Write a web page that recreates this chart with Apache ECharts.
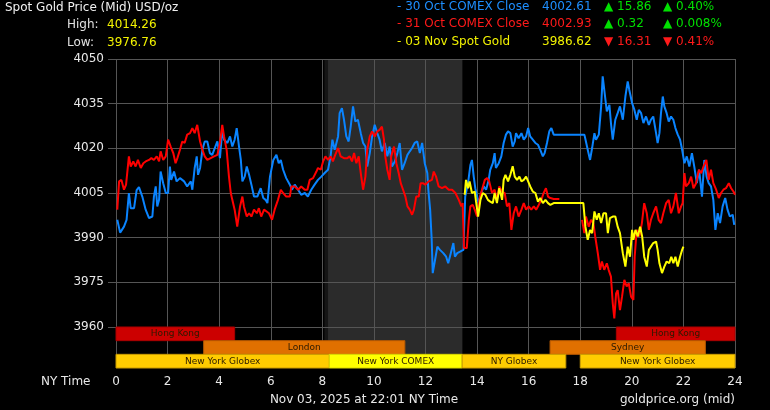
<!DOCTYPE html>
<html><head><meta charset="utf-8">
<script src="https://cdn.jsdelivr.net/npm/echarts@6/dist/echarts.min.js"></script>
<style>html,body{margin:0;padding:0;background:#000}#c{width:770px;height:410px}</style>
</head><body><div id="c"></div>
<script>
// ---- data (hour of NY day, price) ----
const oct30 = [[0.05,3996],[0.16,3991.7],[0.31,3993.7],[0.41,3996],[0.50,4005],[0.57,3999.9],[0.70,3999.9],[0.80,4006],[0.89,4007],[1.02,4003.8],[1.15,3999.4],[1.28,3996.6],[1.41,3997.1],[1.47,4003.8],[1.54,4007.2],[1.60,4000.5],[1.67,4002.7],[1.73,4012.2],[1.83,4008.3],[1.93,4005],[2.02,4005],[2.09,4013.9],[2.14,4009.4],[2.25,4012.2],[2.35,4008.9],[2.48,4010],[2.64,4008.9],[2.76,4007.2],[2.90,4008.9],[2.96,4006.1],[3.05,4013.4],[3.13,4017.3],[3.18,4011.1],[3.26,4013.4],[3.35,4019.5],[3.44,4022.3],[3.54,4022.3],[3.64,4018.4],[3.73,4017.8],[3.83,4020.1],[3.93,4022.3],[4.03,4016.7],[4.12,4026.2],[4.19,4022.9],[4.32,4021.8],[4.42,4024],[4.51,4020.6],[4.60,4022.9],[4.68,4026.8],[4.77,4020.6],[4.84,4016.1],[4.90,4008.9],[4.99,4010.5],[5.07,4013.9],[5.16,4011.1],[5.25,4007.8],[5.35,4003.8],[5.48,4003.8],[5.61,4006.6],[5.71,4003.3],[5.80,4002.7],[5.87,4001.6],[5.97,4010.5],[6.10,4016.1],[6.15,4016.1],[6.22,4017.8],[6.31,4015],[6.39,4016.1],[6.48,4012.8],[6.60,4010],[6.74,4007.8],[6.82,4006.1],[6.93,4007.8],[7.06,4006.1],[7.18,4004.4],[7.32,4005],[7.44,4003.8],[7.57,4006.1],[7.70,4007.8],[7.83,4009.4],[7.96,4010.5],[8.09,4011.7],[8.22,4012.8],[8.32,4017.3],[8.39,4022.9],[8.48,4019.5],[8.61,4024],[8.67,4031.8],[8.76,4033.5],[8.84,4029.6],[8.93,4024],[9.02,4022.3],[9.10,4027.3],[9.19,4034.1],[9.28,4029],[9.38,4029.6],[9.49,4025.1],[9.58,4021.8],[9.67,4020.6],[9.74,4013.9],[9.84,4018.4],[9.93,4024],[10.03,4027.9],[10.13,4025.1],[10.22,4022.9],[10.31,4019],[10.42,4021.8],[10.52,4017.3],[10.61,4020.6],[10.70,4013.9],[10.81,4015.6],[10.91,4018.4],[11.00,4021.8],[11.09,4012.8],[11.19,4015],[11.30,4017.8],[11.39,4019],[11.48,4020.1],[11.58,4021.8],[11.68,4022.3],[11.78,4018.4],[11.87,4021.8],[11.97,4015],[12.07,4011.7],[12.11,4006.1],[12.18,3999.4],[12.24,3989.3],[12.28,3978.1],[12.37,3982.5],[12.46,3987],[12.56,3985.9],[12.69,3984.8],[12.80,3983.6],[12.88,3981.4],[12.98,3984.8],[13.08,3988.2],[13.14,3983.6],[13.23,3984.8],[13.34,3985.3],[13.47,3985.9],[13.54,4003.8],[13.65,4008.3],[13.74,4014.4],[13.80,4016.1],[13.87,4010.5],[13.93,4006.6],[14.06,4001.6],[14.16,4005],[14.26,4007.2],[14.35,4006.1],[14.45,4009.4],[14.51,4012.8],[14.61,4015],[14.68,4018.4],[14.73,4013.4],[14.84,4015],[14.94,4017.3],[15.03,4021.8],[15.12,4024.6],[15.20,4025.7],[15.29,4025.1],[15.38,4020.6],[15.46,4022.3],[15.51,4025.1],[15.61,4023.4],[15.72,4025.1],[15.81,4022.9],[15.90,4024],[15.98,4026.8],[16.06,4024],[16.16,4022.9],[16.26,4021.8],[16.36,4021.2],[16.45,4019.5],[16.55,4017.3],[16.62,4018.4],[16.71,4021.8],[16.80,4025.7],[16.88,4026.8],[16.97,4024.6],[18.16,4024.6],[18.22,4022.3],[18.29,4019.5],[18.38,4016.1],[18.46,4020.1],[18.55,4025.1],[18.61,4022.9],[18.72,4024.6],[18.81,4034.1],[18.87,4044.2],[18.93,4039.7],[19.03,4032.4],[19.13,4034.6],[19.19,4028.5],[19.26,4022.9],[19.36,4029.6],[19.45,4031.8],[19.54,4034.1],[19.65,4029.6],[19.75,4037.4],[19.84,4042.5],[19.90,4039.7],[20.01,4035.2],[20.10,4032.9],[20.19,4029.6],[20.27,4032.9],[20.36,4031.8],[20.45,4028.5],[20.55,4030.7],[20.66,4027.9],[20.74,4029.6],[20.83,4030.7],[20.94,4025.1],[21.00,4021.8],[21.07,4025.1],[21.13,4031.8],[21.20,4037.4],[21.26,4034.1],[21.35,4031.8],[21.43,4029],[21.52,4030.7],[21.61,4029.6],[21.69,4026.8],[21.78,4024.6],[21.87,4022.9],[21.95,4019.5],[22.04,4015],[22.13,4017.3],[22.23,4013.9],[22.33,4018.4],[22.42,4013.9],[22.52,4008.3],[22.61,4012.8],[22.72,4003.8],[22.81,4016.1],[22.90,4010.5],[22.98,4008.3],[23.07,4007.2],[23.16,4002.7],[23.24,3992.6],[23.33,3998.2],[23.42,3994.9],[23.52,4000.5],[23.62,4003.3],[23.71,3999.4],[23.80,3997.1],[23.91,3997.7],[23.97,3994.3]];

const oct31 = [[0.05,3999.4],[0.12,4008.9],[0.21,4009.4],[0.31,4006.1],[0.39,4007.8],[0.50,4017.3],[0.57,4013.9],[0.67,4015.6],[0.76,4013.9],[0.85,4016.1],[0.96,4013.4],[1.06,4015],[1.15,4015.6],[1.28,4016.1],[1.37,4016.7],[1.47,4016.1],[1.58,4017.3],[1.67,4015.6],[1.73,4019],[1.83,4016.1],[1.93,4017.3],[2.02,4022.9],[2.12,4020.6],[2.22,4018.4],[2.31,4015],[2.38,4016.7],[2.48,4019.5],[2.57,4022.3],[2.66,4021.8],[2.76,4024.6],[2.87,4025.1],[2.96,4026.8],[3.05,4025.1],[3.15,4027.9],[3.26,4022.3],[3.35,4019.5],[3.44,4017.3],[3.54,4016.1],[3.67,4016.7],[3.80,4017.3],[3.93,4017.8],[4.03,4021.8],[4.12,4027.9],[4.19,4024],[4.29,4019.5],[4.38,4010.5],[4.45,4005],[4.51,4002.7],[4.60,3999.4],[4.70,3993.7],[4.81,4000.5],[4.90,4003.8],[4.96,4000.5],[5.07,3997.1],[5.16,3998.2],[5.25,3997.1],[5.35,3999.4],[5.46,3998.2],[5.54,3999.9],[5.63,3997.1],[5.74,3999.4],[5.84,3998.8],[5.93,3998.2],[6.05,3996],[6.15,3999.4],[6.28,4002.7],[6.39,4006.1],[6.48,4005],[6.60,4003.8],[6.74,4003.8],[6.80,4007.2],[6.93,4007.2],[7.06,4006.1],[7.18,4007.2],[7.32,4006.1],[7.42,4006.1],[7.51,4009.4],[7.64,4010],[7.77,4012.2],[7.83,4013.4],[7.94,4012.8],[8.03,4015.6],[8.12,4017.3],[8.22,4016.1],[8.32,4017.3],[8.41,4015.6],[8.50,4017.8],[8.61,4020.1],[8.71,4017.3],[8.84,4016.7],[8.97,4016.7],[9.06,4017.3],[9.15,4015.6],[9.23,4018.4],[9.32,4015],[9.41,4017.3],[9.49,4011.7],[9.58,4006.1],[9.67,4010.5],[9.74,4019.5],[9.84,4024],[9.93,4025.7],[10.03,4024],[10.13,4025.7],[10.22,4026.2],[10.31,4027.3],[10.39,4022.9],[10.44,4017.3],[10.52,4012.8],[10.61,4009.4],[10.67,4017.3],[10.78,4020.6],[10.87,4015],[10.96,4011.7],[11.04,4008.3],[11.13,4006.1],[11.22,4003.8],[11.30,4000.5],[11.39,3999.4],[11.48,3997.7],[11.55,3999.4],[11.64,4003.8],[11.74,4003.8],[11.81,4008.3],[11.90,4008.3],[11.99,4007.8],[12.12,4008.9],[12.25,4009.4],[12.32,4012.2],[12.41,4010.5],[12.51,4007.2],[12.64,4006.6],[12.77,4007.2],[12.90,4006.1],[13.03,4006.1],[13.16,4005],[13.29,4002.7],[13.39,4000.5],[13.44,4001.6],[13.49,3986.5],[13.60,3986.5],[13.68,3996],[13.74,4000.5],[13.83,4001],[13.91,3999.4],[14.00,3997.1],[14.09,4002.7],[14.19,4006.1],[14.30,4009.4],[14.39,4010],[14.47,4008.9],[14.58,4005],[14.68,4006.1],[14.77,4002.7],[14.86,4007.2],[14.97,4005.5],[15.07,4005],[15.16,4000.5],[15.25,4001.6],[15.33,3992.6],[15.42,3998.2],[15.51,4000.5],[15.61,3997.1],[15.72,3999.4],[15.81,4001.6],[15.90,3999.4],[16.00,4000.5],[16.10,3999.4],[16.20,4000.5],[16.29,3999.4],[16.39,4001],[16.49,4002.7],[16.58,4005],[16.67,4006.6],[16.75,4003.8],[16.84,4003.3],[16.97,4003],[17.19,4003],[17.5,null],[18.07,3996],[18.16,3991.5],[18.22,3997.1],[18.33,3993.7],[18.42,3996],[18.51,3994.9],[18.58,3990.4],[18.68,3984.8],[18.77,3979.2],[18.84,3982],[18.93,3979.2],[19.03,3981.4],[19.10,3979.2],[19.19,3976.9],[19.26,3968],[19.32,3962.9],[19.39,3971.3],[19.45,3972.4],[19.54,3965.7],[19.62,3970.2],[19.71,3975.8],[19.80,3973.6],[19.88,3974.7],[19.97,3970.2],[20.06,3969.1],[20.11,3983.6],[20.19,3992.6],[20.29,3990.4],[20.39,3994.9],[20.48,4001.6],[20.58,3998.2],[20.66,3992.6],[20.74,3996],[20.83,3998.2],[20.94,4000.5],[21.04,3996],[21.13,3994.9],[21.22,3998.2],[21.33,4001.6],[21.43,4002.7],[21.52,3998.2],[21.61,4000.5],[21.71,4005],[21.82,3998.2],[21.91,4000.5],[21.97,4001.6],[22.04,4011.7],[22.10,4007.2],[22.21,4008.3],[22.30,4010.5],[22.39,4006.6],[22.49,4008.3],[22.60,4012.8],[22.69,4011.7],[22.78,4013.9],[22.89,4016.1],[22.98,4009.4],[23.07,4012.8],[23.16,4008.3],[23.27,4006.1],[23.37,4003.3],[23.46,4005],[23.55,4006.1],[23.65,4006.6],[23.76,4008.3],[23.85,4006.6],[23.94,4005.5],[24.0,4004.4]];

const nov03 = [[13.52,4004.4],[13.57,4009.4],[13.65,4006.6],[13.71,4008.9],[13.80,4005],[13.91,4005.5],[13.96,4002.1],[14.04,3997.1],[14.13,4002.7],[14.22,4005],[14.32,4004.4],[14.42,4002.7],[14.51,4002.1],[14.61,4001.6],[14.68,4005],[14.77,4001.6],[14.86,4006.6],[14.97,4002.7],[15.03,4009.4],[15.10,4011.1],[15.20,4008.9],[15.29,4011.1],[15.38,4014],[15.46,4010.5],[15.55,4009.4],[15.64,4010.5],[15.72,4008.9],[15.81,4009.4],[15.90,4010.5],[15.98,4008.9],[16.06,4007.2],[16.16,4005.5],[16.26,4005],[16.36,4002.1],[16.45,4003.3],[16.55,4001.6],[16.65,4002.7],[16.75,4001.6],[16.84,4001],[16.97,4001.6],[18.12,4001.6],[18.20,3993.7],[18.29,3989.3],[18.38,3992.6],[18.46,3991.5],[18.55,3998.8],[18.64,3996],[18.72,3998.2],[18.81,3994.9],[18.90,3998.2],[19.00,3998.2],[19.07,3991.5],[19.15,3996.6],[19.26,3997.1],[19.36,3997.1],[19.45,3993.7],[19.54,3991.5],[19.65,3984.8],[19.75,3980.3],[19.84,3987],[19.93,3983.6],[20.01,3992.6],[20.06,3989.3],[20.14,3992.6],[20.23,3990.4],[20.32,3993.7],[20.40,3990.4],[20.48,3983.6],[20.58,3980.3],[20.66,3985.9],[20.74,3987],[20.83,3988.2],[20.94,3988.7],[21.00,3985.9],[21.07,3981.4],[21.17,3978.1],[21.26,3980.3],[21.35,3982],[21.45,3981.4],[21.53,3983.6],[21.61,3981.4],[21.69,3983.6],[21.78,3980.3],[21.87,3983.6],[21.95,3985.9],[22.00,3987]];

// trading sessions: [name, startHour, endHour, row]
const sessions = [
  ['Hong Kong', 0, 4.6, 0],
  ['Hong Kong', 19.4, 24, 0],
  ['London', 3.4, 11.2, 1],
  ['Sydney', 16.83, 22.85, 1],
  ['New York Globex', 0, 8.27, 2],
  ['New York COMEX', 8.27, 13.42, 2],
  ['NY Globex', 13.42, 17.44, 2],
  ['New York Globex', 18, 24, 2]
];
const comexShade = [[8.08, 8.22, 0], [8.22, 13.43, 1]];

const titleText = 'Spot Gold Price (Mid) USD/oz';
const highLow = [['High:', '4014.26'], ['Low:', '3976.76']];
const legendRows = [
  ['- 30 Oct COMEX Close', '4002.61', '\u25B2 15.86', '\u25B2 0.40%'],
  ['- 31 Oct COMEX Close', '4002.93', '\u25B2 0.32', '\u25B2 0.008%'],
  ['- 03 Nov Spot Gold', '3986.62', '\u25BC 16.31', '\u25BC 0.41%']
];
const footerDate = 'Nov 03, 2025 at 22:01 NY Time';
const footerSrc = 'goldprice.org (mid)';
const xAxisName = 'NY Time';

// ---- styles ----
const FONT = '"DejaVu Sans", Verdana, sans-serif';
const seriesColors = ['#0a84ff', '#ff0000', '#ffff00'];
const legendTextColors = ['#1e8fff', '#ff1a1a', '#f2f200'];
const sessionFill = {'Hong Kong':'#cc0000','London':'#e07000','Sydney':'#e07000','New York Globex':'#ffcc00','NY Globex':'#ffcc00','New York COMEX':'#ffff00'};
const sessionStroke = {'Hong Kong':'#a80000','London':'#b85a00','Sydney':'#b85a00','New York Globex':'#c89b00','NY Globex':'#c89b00','New York COMEX':'#d8d800'};
const GRID = '#555555';

const chart = echarts.init(document.getElementById('c'), null, {renderer:'canvas'});

const graphics = [];
graphics.push({type:'text', x:5, y:8, style:{text:titleText, fill:'#f0f0f0', font:'12px '+FONT, verticalAlign:'middle'}});
highLow.forEach((r, i) => {
  const y = 25 + i*18;
  graphics.push({type:'text', x:67, y:y, style:{text:r[0], fill:'#e0e0e0', font:'12px '+FONT, verticalAlign:'middle'}});
  graphics.push({type:'text', x:107, y:y, style:{text:r[1], fill:'#f2f200', font:'12px '+FONT, verticalAlign:'middle'}});
});
const colX = [397, 542, 604, 663];
legendRows.forEach((r, i) => {
  const y = 7 + i*17.2;
  const c = legendTextColors[i];
  const chg = r[2].charAt(0) === '\u25B2' ? '#00e000' : '#ff1a1a';
  graphics.push({type:'text', x:colX[0], y:y, style:{text:r[0], fill:c, font:'12px '+FONT, verticalAlign:'middle'}});
  graphics.push({type:'text', x:colX[1], y:y, style:{text:r[1], fill:c, font:'12px '+FONT, verticalAlign:'middle'}});
  graphics.push({type:'text', x:colX[2], y:y, style:{text:r[2], fill:chg, font:'12px '+FONT, verticalAlign:'middle'}});
  graphics.push({type:'text', x:colX[3], y:y, style:{text:r[3], fill:chg, font:'12px '+FONT, verticalAlign:'middle'}});
});
graphics.push({type:'text', x:41, y:382, style:{text:xAxisName, fill:'#e8e8e8', font:'12px '+FONT, verticalAlign:'middle'}});
graphics.push({type:'text', x:364, y:400, style:{text:footerDate, fill:'#e8e8e8', font:'12px '+FONT, align:'center', verticalAlign:'middle'}});
graphics.push({type:'text', x:735, y:400, style:{text:footerSrc, fill:'#e8e8e8', font:'12px '+FONT, align:'right', verticalAlign:'middle'}});

function shadeRender(yTop, yBottom) {
  return function(params, api) {
    const a = api.coord([api.value(0), yTop]);
    const b = api.coord([api.value(1), yBottom]);
    return {type:'rect', shape:{x:a[0], y:a[1], width:b[0]-a[0], height:b[1]-a[1]},
      style:{fill: api.value(2) ? '#2b2b2b' : '#151515'}};
  };
}

const lineBase = {type:'line', xAxisIndex:0, yAxisIndex:0, showSymbol:false, symbol:'none', smooth:false, connectNulls:false, animation:false};

chart.setOption({
  backgroundColor:'#000',
  animation:false,
  graphic: graphics,
  grid:[
    {left:116, right:35, top:59, height:268},
    {left:116, right:35, top:327, height:41}
  ],
  xAxis:[
    {type:'value', gridIndex:0, min:0, max:24, interval:2, axisLine:{show:false}, axisTick:{show:false}, axisLabel:{show:false},
     splitLine:{show:true, lineStyle:{color:GRID, width:1}}},
    {type:'value', gridIndex:1, min:0, max:24, interval:2, axisLine:{show:false}, axisTick:{show:true, length:2, lineStyle:{color:GRID}},
     axisLabel:{show:true, color:'#e8e8e8', fontFamily:FONT, fontSize:12, margin:8, showMinLabel:true, showMaxLabel:true},
     splitLine:{show:true, lineStyle:{color:GRID, width:1}}}
  ],
  yAxis:[
    {type:'value', gridIndex:0, min:3960, max:4050, interval:15, axisLine:{show:false},
     axisTick:{show:true, length:8, lineStyle:{color:GRID}},
     axisLabel:{color:'#e8e8e8', fontFamily:FONT, fontSize:12, margin:12, formatter:function(v){return String(v);}},
     splitLine:{show:true, lineStyle:{color:GRID, width:1}}},
    {type:'value', gridIndex:1, min:0, max:3, inverse:true, show:false, splitLine:{show:false}}
  ],
  series:[
    {type:'custom', xAxisIndex:0, yAxisIndex:0, z:-1, silent:true, renderItem:shadeRender(4050, 3960), data:comexShade},
    {type:'custom', xAxisIndex:1, yAxisIndex:1, z:-1, silent:true, renderItem:shadeRender(0, 3), data:comexShade},
    Object.assign({}, lineBase, {name:'30 Oct', data:oct30, lineStyle:{color:seriesColors[0], width:2}, itemStyle:{color:seriesColors[0]}, z:3}),
    Object.assign({}, lineBase, {name:'31 Oct', data:oct31, lineStyle:{color:seriesColors[1], width:2}, itemStyle:{color:seriesColors[1]}, z:4}),
    Object.assign({}, lineBase, {name:'03 Nov', data:nov03, lineStyle:{color:seriesColors[2], width:2}, itemStyle:{color:seriesColors[2]}, z:5}),
    {type:'custom', xAxisIndex:1, yAxisIndex:1, z:6, silent:true,
     data: sessions.map(s => [s[1], s[2], s[3]]),
     renderItem:function(params, api){
       const name = sessions[params.dataIndex][0];
       const a = api.coord([api.value(0), api.value(2)]);
       const b = api.coord([api.value(1), api.value(2)+1]);
       return {type:'rect', shape:{x:a[0], y:a[1], width:b[0]-a[0], height:b[1]-a[1]},
         style:{fill:sessionFill[name], stroke:sessionStroke[name], lineWidth:1},
         textContent:{style:{text:name, fill:'#2a1a00', font:'9px '+FONT}},
         textConfig:{position:'inside'}};
     }}
  ]
});
</script></body></html>
